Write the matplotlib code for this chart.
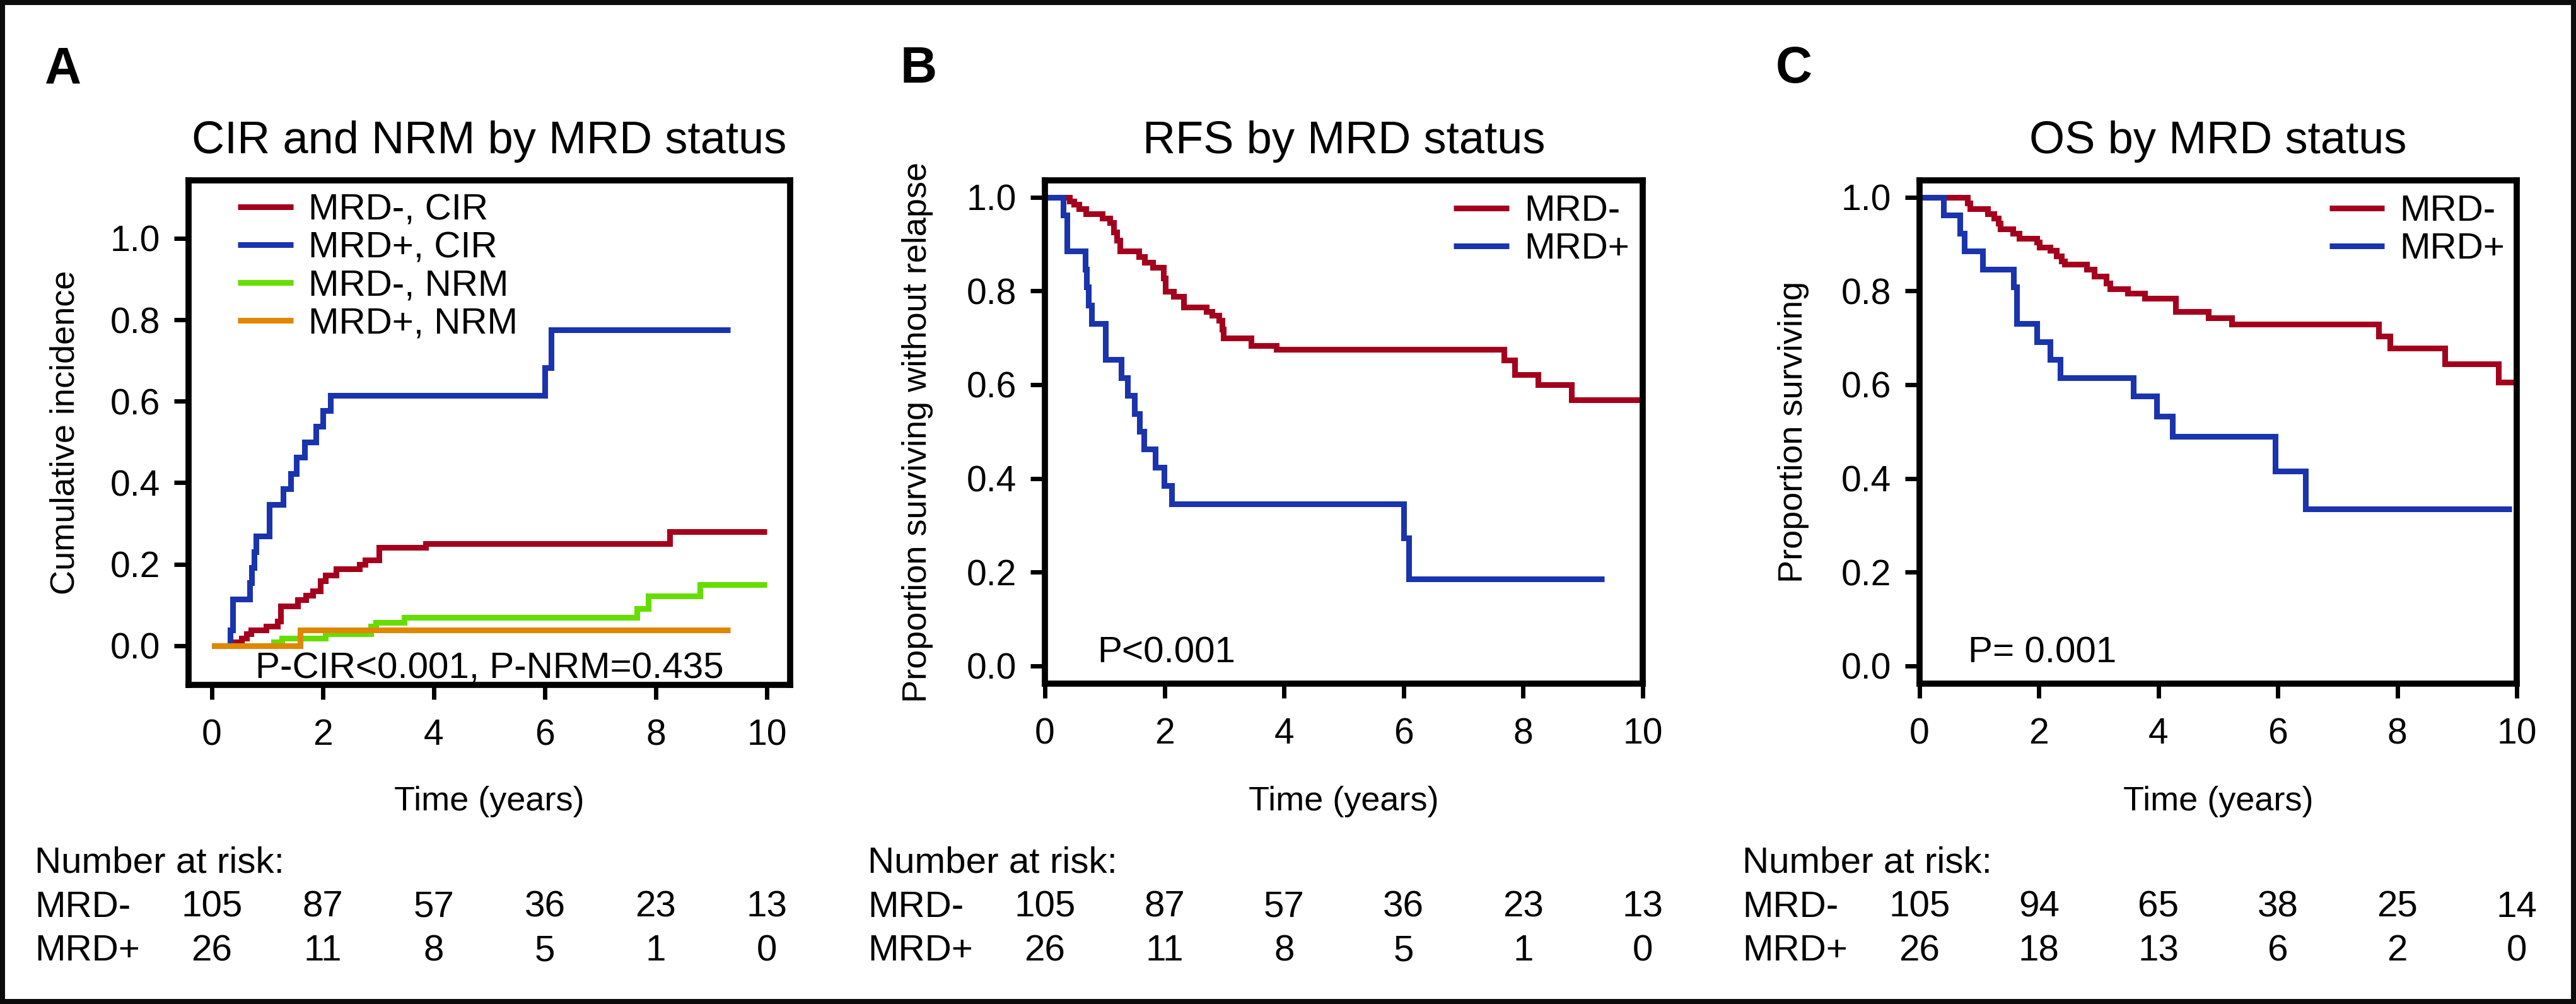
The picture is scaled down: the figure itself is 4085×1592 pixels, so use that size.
import matplotlib
matplotlib.use("Agg")
import matplotlib.pyplot as plt
from matplotlib import transforms
from matplotlib.patches import Rectangle

plt.rcParams['font.family'] = ['Liberation Sans', 'DejaVu Sans']

W, H = 4085, 1592
RED = '#a4001d'
BLUE = '#1934ad'
GREEN = '#66dd00'
ORANGE = '#e08700'

# ---- panel A: cumulative incidence
a_cir_neg_t = [0, 0.43, 0.54, 0.62, 0.71, 0.975, 1.18, 1.24, 1.55, 1.69, 1.82, 1.95, 2.05, 2.24, 2.66, 2.76, 3.01, 3.85, 8.25, 10.0]
a_cir_neg_v = [0, 0.0095, 0.019, 0.029, 0.038, 0.048, 0.061, 0.098, 0.113, 0.124, 0.135, 0.159, 0.174, 0.188, 0.200, 0.211, 0.242, 0.251, 0.280, 0.280]
a_cir_pos_t = [0, 0.33, 0.37, 0.68, 0.72, 0.76, 0.80, 1.035, 1.29, 1.42, 1.52, 1.67, 1.87, 2.0, 2.14, 6.0, 6.11, 9.34]
a_cir_pos_v = [0, 0.038, 0.115, 0.154, 0.192, 0.231, 0.269, 0.346, 0.385, 0.423, 0.462, 0.500, 0.538, 0.577, 0.615, 0.683, 0.775, 0.775]
a_nrm_neg_t = [0, 1.11, 1.26, 2.05, 2.86, 2.96, 3.47, 7.66, 7.86, 8.80, 10.0]
a_nrm_neg_v = [0, 0.0095, 0.019, 0.029, 0.048, 0.057, 0.069, 0.092, 0.122, 0.150, 0.150]
a_nrm_pos_t = [0, 1.59, 9.34]
a_nrm_pos_v = [0, 0.038, 0.038]

# ---- panel B: relapse-free survival
b_neg_t = [0, 0.41, 0.48, 0.57, 0.69, 0.96, 1.09, 1.15, 1.20, 1.25, 1.57, 1.67, 1.80, 1.98, 2.01, 2.15, 2.32, 2.70, 2.80, 2.91, 2.96, 2.99, 3.45, 3.87, 7.68, 7.86, 8.25, 8.81, 10.0]
b_neg_v = [1, 0.992, 0.985, 0.975, 0.964, 0.955, 0.946, 0.926, 0.908, 0.885, 0.873, 0.861, 0.850, 0.828, 0.799, 0.788, 0.766, 0.756, 0.748, 0.737, 0.718, 0.699, 0.683, 0.675, 0.653, 0.622, 0.600, 0.567, 0.567]
b_pos_t = [0, 0.31, 0.37, 0.67, 0.70, 0.73, 0.78, 1.01, 1.28, 1.38, 1.50, 1.58, 1.66, 1.85, 1.99, 2.12, 6.00, 6.09, 9.36]
b_pos_v = [1, 0.962, 0.885, 0.846, 0.808, 0.769, 0.731, 0.654, 0.615, 0.577, 0.538, 0.500, 0.462, 0.423, 0.385, 0.346, 0.273, 0.185, 0.185]

# ---- panel C: overall survival
c_neg_t = [0, 0.80, 0.85, 1.14, 1.25, 1.32, 1.35, 1.56, 1.67, 1.96, 2.01, 2.19, 2.29, 2.38, 2.43, 2.80, 2.93, 3.13, 3.19, 3.48, 3.77, 4.29, 4.84, 5.23, 7.69, 7.88, 8.80, 9.69, 10.0]
c_neg_v = [1, 0.988, 0.975, 0.964, 0.955, 0.945, 0.932, 0.923, 0.912, 0.904, 0.894, 0.886, 0.875, 0.864, 0.857, 0.846, 0.832, 0.817, 0.805, 0.795, 0.784, 0.756, 0.742, 0.729, 0.704, 0.678, 0.645, 0.605, 0.605]
c_pos_t = [0, 0.40, 0.68, 0.75, 1.06, 1.57, 1.63, 1.96, 2.19, 2.35, 3.58, 3.97, 4.23, 5.96, 6.46, 9.92]
c_pos_v = [1, 0.962, 0.923, 0.885, 0.846, 0.808, 0.731, 0.692, 0.654, 0.615, 0.576, 0.532, 0.489, 0.416, 0.335, 0.335]

# numbers at risk
risk_times = [0, 2, 4, 6, 8, 10]
ab_risk_neg = [105, 87, 57, 36, 23, 13]
ab_risk_pos = [26, 11, 8, 5, 1, 0]
c_risk_neg = [105, 94, 65, 38, 25, 14]
c_risk_pos = [26, 18, 13, 6, 2, 0]

xticks = [0, 2, 4, 6, 8, 10]
yticks = [0.0, 0.2, 0.4, 0.6, 0.8, 1.0]

fig = plt.figure(figsize=(W / 100, H / 100), dpi=100)


def px_rect(l, r, t, b):
    return [l / W, 1 - b / H, (r - l) / W, (b - t) / H]


panels = [
    dict(rect=px_rect(299, 1253, 286, 1086), xlim=(-0.42, 10.42), ylim=(-0.096, 1.142),
         title='CIR and NRM by MRD status', ylabel='Cumulative incidence',
         curves=[(a_cir_neg_t, a_cir_neg_v, RED, 'MRD-, CIR'),
                 (a_cir_pos_t, a_cir_pos_v, BLUE, 'MRD+, CIR'),
                 (a_nrm_neg_t, a_nrm_neg_v, GREEN, 'MRD-, NRM'),
                 (a_nrm_pos_t, a_nrm_pos_v, ORANGE, 'MRD+, NRM')],
         leg=(0.082, 0.974), ptext='P-CIR<0.001, P-NRM=0.435', pxy=(0.78, -0.080),
         ylab_x=118, risk_x=55, risk=(ab_risk_neg, ab_risk_pos)),
    dict(rect=px_rect(1657, 2605, 286, 1084), xlim=(0, 10), ylim=(-0.038, 1.036),
         title='RFS by MRD status', ylabel='Proportion surviving without relapse',
         curves=[(b_neg_t, b_neg_v, RED, 'MRD-'), (b_pos_t, b_pos_v, BLUE, 'MRD+')],
         leg=(0.684, 0.972), ptext='P<0.001', pxy=(0.88, 0.007),
         ylab_x=1469, risk_x=1376, risk=(ab_risk_neg, ab_risk_pos)),
    dict(rect=px_rect(3044, 3991, 286, 1084), xlim=(0, 10), ylim=(-0.038, 1.036),
         title='OS by MRD status', ylabel='Proportion surviving',
         curves=[(c_neg_t, c_neg_v, RED, 'MRD-'), (c_pos_t, c_pos_v, BLUE, 'MRD+')],
         leg=(0.686, 0.972), ptext='P= 0.001', pxy=(0.81, 0.007),
         ylab_x=2858, risk_x=2763, risk=(c_risk_neg, c_risk_pos)),
]

LW = 6.5

for p in panels:
    ax = fig.add_axes(p['rect'])
    for t, v, col, lab in p['curves']:
        ax.plot(t, v, drawstyle='steps-post', color=col, lw=LW, label=lab,
                solid_joinstyle='miter', solid_capstyle='butt')
    ax.set_xlim(*p['xlim'])
    ax.set_ylim(*p['ylim'])
    ax.set_xticks(xticks)
    ax.set_yticks(yticks)
    ax.set_yticklabels(['%.1f' % y for y in yticks])
    for s in ax.spines.values():
        s.set_linewidth(7)
    ax.tick_params(axis='both', direction='out', length=16.5, width=5, labelsize=41)
    ax.tick_params(axis='x', pad=22)
    ax.tick_params(axis='y', pad=16)
    ax.set_title(p['title'], fontsize=52, pad=31)
    leg = ax.legend(loc='upper left', bbox_to_anchor=p['leg'], frameon=False, fontsize=42,
                    handlelength=1.5, handletextpad=0.42, labelspacing=0.1,
                    borderpad=0, borderaxespad=0)
    for ln in leg.get_lines():
        ln.set_linewidth(LW)
    ax.text(p['pxy'][0], p['pxy'][1], p['ptext'], fontsize=42, va='baseline', ha='left')

    # axis labels (the source uses a condensed face; sized close to its width here)
    xfig = transforms.blended_transform_factory(ax.transAxes, fig.transFigure)
    fig.text(0.5, 1 - 1285 / H, 'Time (years)', transform=xfig, ha='center', va='baseline',
             fontsize=39)
    yfig = transforms.blended_transform_factory(fig.transFigure, ax.transAxes)
    fig.text(p['ylab_x'] / W, 0.5, p['ylabel'], transform=yfig, rotation=90,
             rotation_mode='anchor', ha='center', va='baseline', fontsize=39)

    # numbers at risk table
    rx = p['risk_x'] / W
    fig.text(rx, 1 - 1383 / H, 'Number at risk:', fontsize=42, va='baseline', ha='left')
    fig.text(rx, 1 - 1454 / H, 'MRD-', fontsize=42, va='baseline', ha='left')
    fig.text(rx, 1 - 1523 / H, 'MRD+', fontsize=42, va='baseline', ha='left')
    dfig = transforms.blended_transform_factory(ax.transData, fig.transFigure)
    for row, yb in zip(p['risk'], [1454, 1523]):
        for tx, n in zip(risk_times, row):
            fig.text(tx, 1 - yb / H, str(n), transform=dfig, fontsize=42,
                     va='baseline', ha='center')

letters = [('A', 71), ('B', 1428), ('C', 2816)]
for lt, lx in letters:
    fig.text(lx / W, 1 - 131 / H, lt, fontsize=58, fontweight='bold', va='baseline', ha='left')

# black frame round the whole figure
fig.patches.append(Rectangle((0, 0), 1, 1, transform=fig.transFigure, fill=False,
                             lw=11.5, edgecolor='#0b0c0b', zorder=10))

fig.savefig('out.png', dpi=100)
